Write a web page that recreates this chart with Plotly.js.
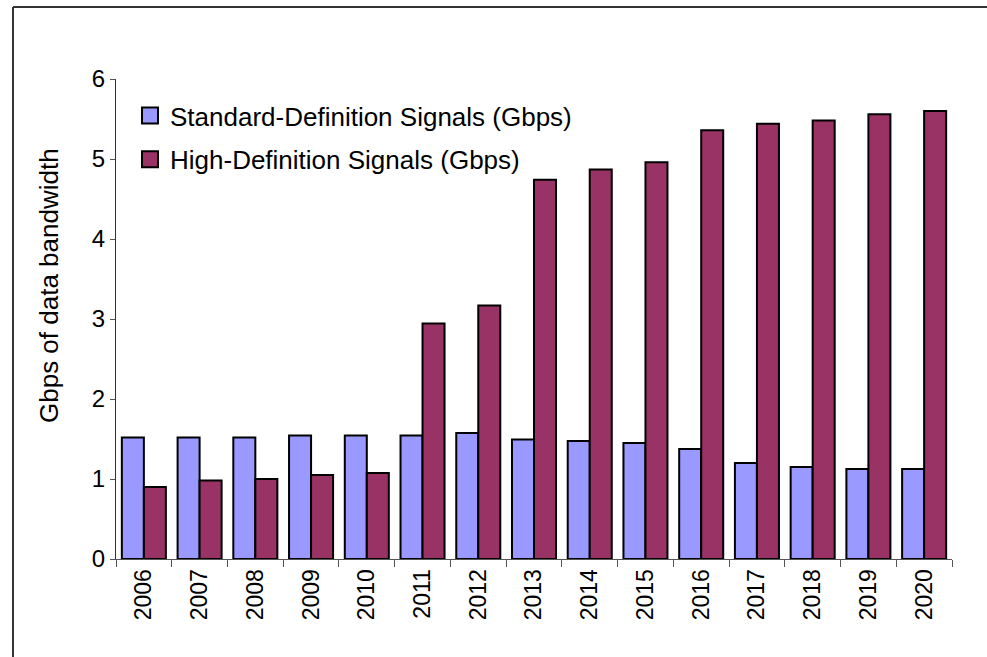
<!DOCTYPE html>
<html>
<head>
<meta charset="utf-8">
<script src="https://cdn.plot.ly/plotly-3.0.1.min.js"></script>
<style>
  html, body { margin: 0; padding: 0; background: #fff; }
  #chart { width: 987px; height: 657px; }
</style>
</head>
<body>
<div id="chart"></div>
<script>
const years = ['2006','2007','2008','2009','2010','2011','2012','2013','2014','2015','2016','2017','2018','2019','2020'];
const sdValues = [1.52, 1.52, 1.52, 1.545, 1.545, 1.545, 1.575, 1.495, 1.475, 1.45, 1.375, 1.2, 1.15, 1.125, 1.125];
const hdValues = [0.9, 0.98, 1.0, 1.05, 1.075, 2.945, 3.17, 4.74, 4.87, 4.96, 5.36, 5.44, 5.48, 5.56, 5.60];
const sdName = 'Standard-Definition Signals (Gbps)';
const hdName = 'High-Definition Signals (Gbps)';
const yTitle = 'Gbps of data bandwidth';

const FONT = '"Liberation Sans", Arial, sans-serif';
const SD_COLOR = '#9999FF';
const HD_COLOR = '#993366';

const traces = [
  {
    type: 'bar', name: sdName, x: years, y: sdValues,
    showlegend: false,
    marker: { color: SD_COLOR, line: { color: '#000000', width: 2 } },
    hoverinfo: 'x+y'
  },
  {
    type: 'bar', name: hdName, x: years, y: hdValues,
    showlegend: false,
    marker: { color: HD_COLOR, line: { color: '#000000', width: 2 } },
    hoverinfo: 'x+y'
  },
  // legend-only entries (larger square swatches like the reference)
  {
    type: 'scatter', mode: 'markers', name: sdName, x: [null], y: [null],
    legendgroup: 'sd', showlegend: true,
    marker: { symbol: 'square', size: 16, color: SD_COLOR, line: { color: '#000000', width: 2 } }
  },
  {
    type: 'scatter', mode: 'markers', name: hdName, x: [null], y: [null],
    legendgroup: 'hd', showlegend: true,
    marker: { symbol: 'square', size: 16, color: HD_COLOR, line: { color: '#000000', width: 2 } }
  }
];

const W = 987, H = 657;
const L = 116, R = 35, T = 79, B = 98;
const pw = W - L - R, ph = H - T - B;
const px = v => (v - L) / pw;
const py = v => (H - B - v) / ph;

const layout = {
  width: W, height: H,
  margin: { l: L, r: R, t: T, b: B, pad: 0 },
  paper_bgcolor: '#ffffff',
  plot_bgcolor: '#ffffff',
  font: { family: FONT, color: '#000000', size: 24 },
  barmode: 'group',
  bargap: 0.21,
  bargroupgap: 0,
  showlegend: true,
  legend: {
    x: px(130), y: py(92), xanchor: 'left', yanchor: 'top',
    bgcolor: 'rgba(0,0,0,0)',
    font: { family: FONT, size: 26, color: '#000000' },
    traceorder: 'grouped',
    tracegroupgap: 7,
    itemsizing: 'trace'
  },
  xaxis: {
    type: 'category',
    showline: true, linecolor: '#555555', linewidth: 1,
    ticks: 'outside', ticklen: 7, tickcolor: '#555555', tickwidth: 1,
    tickson: 'boundaries',
    tickangle: -90,
    tickfont: { family: FONT, size: 23, color: '#000000' },
    showgrid: false, zeroline: false,
    fixedrange: true
  },
  yaxis: {
    range: [0, 6], dtick: 1, tick0: 0,
    showline: true, linecolor: '#333333', linewidth: 1,
    ticks: 'outside', ticklen: 5, tickcolor: '#555555', tickwidth: 1,
    tickfont: { family: FONT, size: 24, color: '#000000' },
    showgrid: false, zeroline: false,
    fixedrange: true
  },
  annotations: [
    {
      text: yTitle, xref: 'paper', yref: 'paper',
      x: px(49), y: py(286), xanchor: 'center', yanchor: 'middle',
      textangle: -90, showarrow: false,
      font: { family: FONT, size: 26, color: '#000000' }
    }
  ],
  shapes: [
    { type: 'line', xref: 'paper', yref: 'paper', x0: px(13), x1: px(1000), y0: py(7), y1: py(7),
      line: { color: '#333333', width: 2 } },
    { type: 'line', xref: 'paper', yref: 'paper', x0: px(13), x1: px(13), y0: py(7), y1: py(670),
      line: { color: '#333333', width: 2 } }
  ]
};

Plotly.newPlot('chart', traces, layout, { displayModeBar: false, staticPlot: true });
</script>
</body>
</html>
